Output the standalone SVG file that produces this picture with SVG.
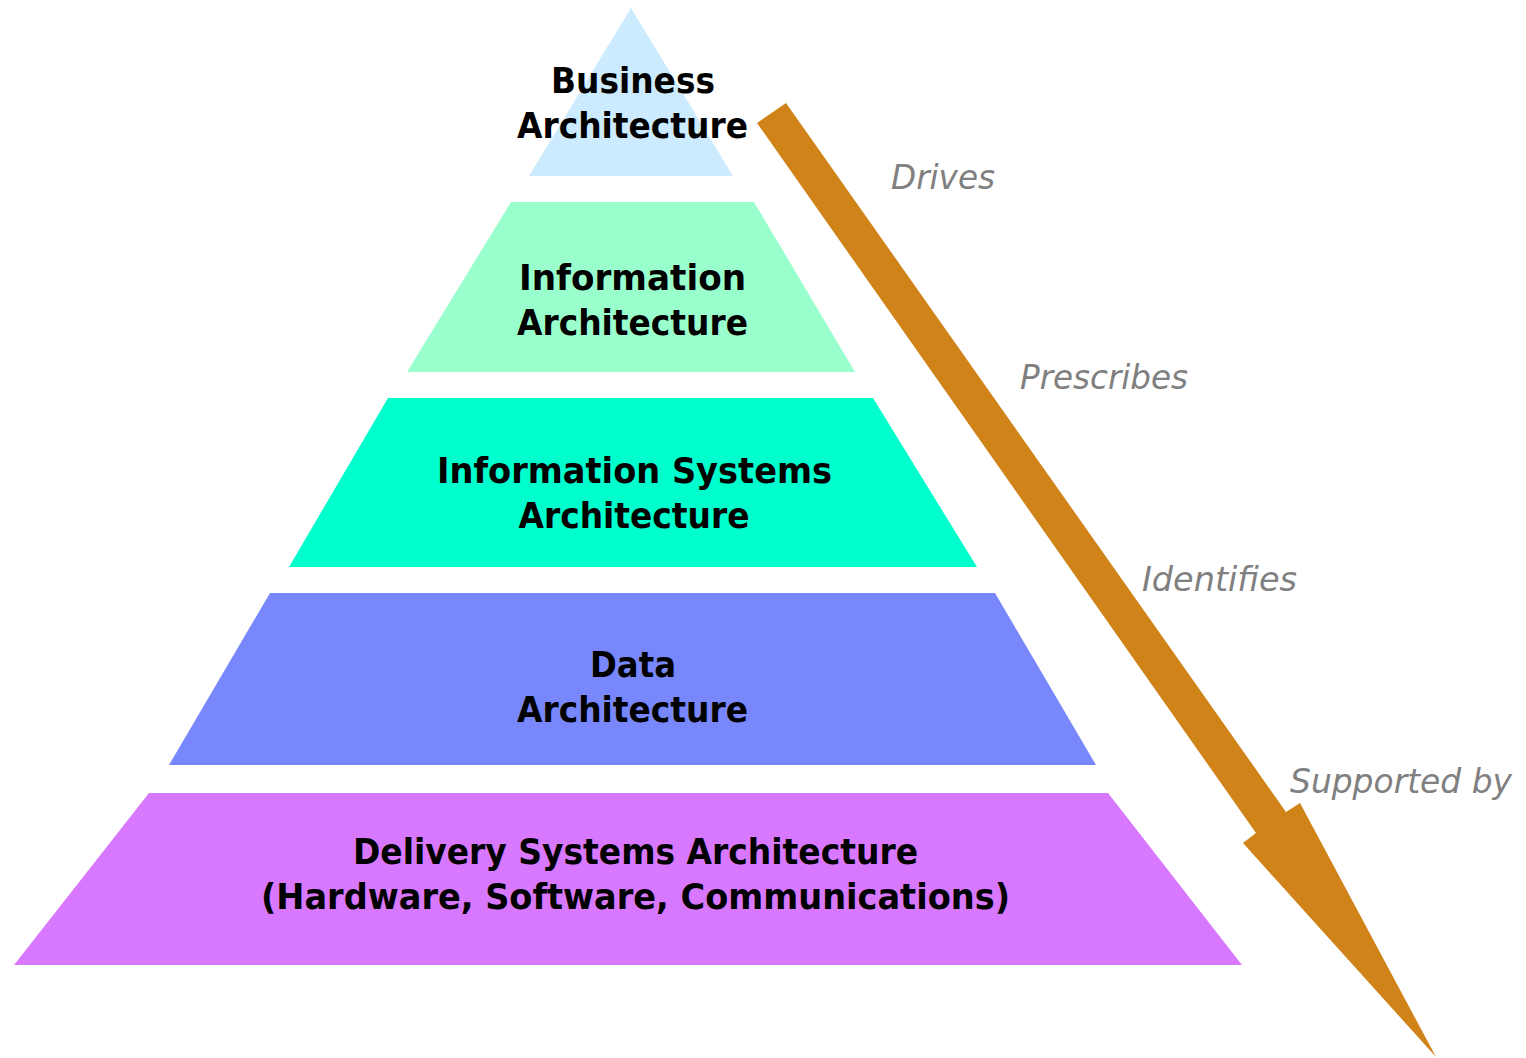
<svg xmlns="http://www.w3.org/2000/svg" width="1526" height="1058" viewBox="0 0 1526 1058">
<style>
.t{font-family:"DejaVu Sans",Verdana,sans-serif;font-weight:bold;font-size:35px;fill:#000;text-anchor:middle}
.l{font-family:"DejaVu Sans",Verdana,sans-serif;font-style:italic;font-size:34px;fill:#808080}
</style>
<rect width="1526" height="1058" fill="#fff"/>
<g id="business">
<polygon points="631,8 733,176 529,176" fill="#CCEBFE"/>
<text class="t" x="633" y="93" textLength="164" lengthAdjust="spacingAndGlyphs">Business</text>
<text class="t" x="632.5" y="138" textLength="231" lengthAdjust="spacingAndGlyphs">Architecture</text>
</g>
<g id="information">
<polygon points="511,202 754,202 855,372 407,372" fill="#99FFCC"/>
<text class="t" x="632.5" y="290" textLength="227" lengthAdjust="spacingAndGlyphs">Information</text>
<text class="t" x="632.5" y="335" textLength="231" lengthAdjust="spacingAndGlyphs">Architecture</text>
</g>
<g id="infosystems">
<polygon points="388,398 873,398 977,567 289,567" fill="#00FFCC"/>
<text class="t" x="634.5" y="483" textLength="395" lengthAdjust="spacingAndGlyphs">Information Systems</text>
<text class="t" x="634" y="528" textLength="231" lengthAdjust="spacingAndGlyphs">Architecture</text>
</g>
<g id="data">
<polygon points="270,593 995,593 1096,765 169,765" fill="#7888FC"/>
<text class="t" x="633" y="677" textLength="86" lengthAdjust="spacingAndGlyphs">Data</text>
<text class="t" x="632.5" y="722" textLength="231" lengthAdjust="spacingAndGlyphs">Architecture</text>
</g>
<g id="delivery">
<polygon points="149,793 1108,793 1242,965 14,965" fill="#D878FE"/>
<text class="t" x="635.5" y="864" textLength="565" lengthAdjust="spacingAndGlyphs">Delivery Systems Architecture</text>
<text class="t" x="635.5" y="909" textLength="749" lengthAdjust="spacingAndGlyphs">(Hardware, Software, Communications)</text>
</g>
<g id="connectors">
<polygon points="757,123 786,103 1286,812 1300,803 1436,1057 1243,843 1256,833" fill="#D08318"/>
<text class="l" x="891" y="189" textLength="104" lengthAdjust="spacingAndGlyphs">Drives</text>
<text class="l" x="1020" y="389" textLength="168" lengthAdjust="spacingAndGlyphs">Prescribes</text>
<text class="l" x="1142" y="591" textLength="155" lengthAdjust="spacingAndGlyphs">Identifies</text>
<text class="l" x="1290" y="793" textLength="222" lengthAdjust="spacingAndGlyphs">Supported by</text>
</g>
</svg>
